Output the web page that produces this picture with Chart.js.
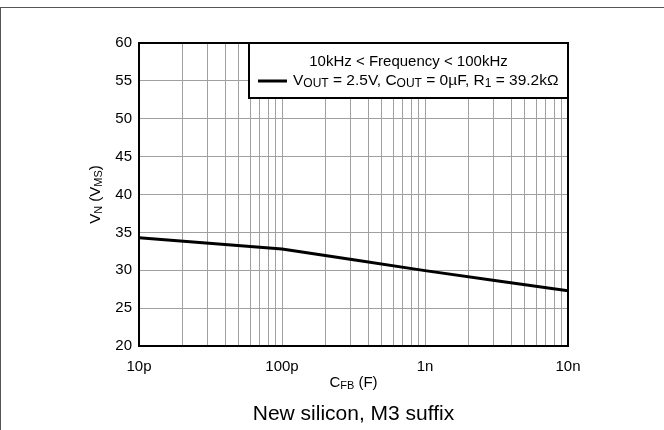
<!DOCTYPE html>
<html>
<head>
<meta charset="utf-8">
<script src="https://cdn.jsdelivr.net/npm/chart.js@4"></script>
<style>
  body { margin: 0; background: #fff; }
  canvas { display: block; }
</style>
</head>
<body>
<canvas id="chart" width="664" height="430"></canvas>
<script>
// data
const capValues = [1e-11, 1e-10, 3.16e-10, 1e-9, 3.16e-9, 1e-8];
const noiseValues = [34.3, 32.8, 31.4, 29.95, 28.6, 27.3];
const decadeLabels = ["10p", "100p", "1n", "10n"];
const decadeValues = [1e-11, 1e-10, 1e-9, 1e-8];
const yTicks = [20, 25, 30, 35, 40, 45, 50, 55, 60];

const FONT = "'Liberation Sans', Arial, sans-serif";

// minor + major grid positions for the log axis
const xTickValues = [];
decadeValues.forEach((d, i) => {
  if (i === decadeValues.length - 1) { xTickValues.push(d); return; }
  for (let m = 1; m < 10; m++) xTickValues.push(m * d);
});

// draw text made of pieces, some of them subscript
function richText(ctx, parts, x, y, size, align, subRatio) {
  const subSize = Math.round(size * (subRatio || 0.72));
  let total = 0;
  parts.forEach(p => {
    ctx.font = (p.sub ? subSize : size) + "px " + FONT;
    p.w = ctx.measureText(p.t).width;
    total += p.w;
  });
  let cx = align === "center" ? x - total / 2 : x;
  ctx.textBaseline = "middle";
  ctx.textAlign = "left";
  parts.forEach(p => {
    ctx.font = (p.sub ? subSize : size) + "px " + FONT;
    ctx.fillText(p.t, cx, p.sub ? y + 3 : y);
    cx += p.w;
  });
}

const decorations = {
  id: "decorations",
  beforeDraw(chart) {
    const ctx = chart.ctx;
    ctx.save();
    ctx.strokeStyle = "#555";
    ctx.lineWidth = 1;
    ctx.beginPath();
    ctx.moveTo(0, 7.5); ctx.lineTo(664, 7.5);
    ctx.moveTo(0.5, 7.5); ctx.lineTo(0.5, 430);
    ctx.stroke();
    ctx.restore();
  },
  afterDraw(chart) {
    const ctx = chart.ctx;
    const a = chart.chartArea;
    ctx.save();
    // legend box
    const lx = 249, ly = a.top, lw = a.right - 249, lh = 55;
    ctx.fillStyle = "#fff";
    ctx.fillRect(lx, ly, lw, lh);
    ctx.strokeStyle = "#000";
    ctx.lineWidth = 2;
    ctx.strokeRect(lx, ly, lw, lh);
    ctx.fillStyle = "#000";
    richText(ctx, [{ t: "10kHz < Frequency < 100kHz" }], lx + lw / 2, 62, 15, "center");
    ctx.lineWidth = 3;
    ctx.beginPath();
    ctx.moveTo(258, 81); ctx.lineTo(287, 81);
    ctx.stroke();
    richText(ctx, [
      { t: "V" }, { t: "OUT", sub: true }, { t: " = 2.5V, C" }, { t: "OUT", sub: true },
      { t: " = 0\u00b5F, R" }, { t: "1", sub: true }, { t: " = 39.2k\u03a9" }
    ], 293, 81, 15.5, "left", 0.75);

    // plot frame
    ctx.lineWidth = 2;
    ctx.strokeRect(a.left, a.top, a.right - a.left, a.bottom - a.top);

    // axis titles
    const midX = (a.left + a.right) / 2;
    richText(ctx, [{ t: "C" }, { t: "FB", sub: true }, { t: " (F)" }], midX, 383, 15, "center");
    ctx.save();
    ctx.translate(96, (a.top + a.bottom) / 2);
    ctx.rotate(-Math.PI / 2);
    richText(ctx, [{ t: "V" }, { t: "N", sub: true }, { t: " (V" }, { t: "MS", sub: true }, { t: ")" }], 0, 0, 15, "center");
    ctx.restore();

    // caption
    richText(ctx, [{ t: "New silicon, M3 suffix" }], midX, 414, 21, "center");
    ctx.restore();
  }
};

new Chart(document.getElementById("chart"), {
  type: "line",
  data: {
    datasets: [{
      data: capValues.map((c, i) => ({ x: c, y: noiseValues[i] })),
      borderColor: "#000",
      borderWidth: 3,
      pointRadius: 0,
      tension: 0,
      fill: false
    }]
  },
  options: {
    responsive: false,
    animation: false,
    devicePixelRatio: 1,
    layout: { padding: { left: 0, top: 43, right: 96, bottom: 0 } },
    plugins: { legend: { display: false }, tooltip: { enabled: false } },
    scales: {
      x: {
        type: "logarithmic",
        min: 1e-11,
        max: 1e-8,
        afterBuildTicks(scale) { scale.ticks = xTickValues.map(v => ({ value: v })); },
        afterFit(scale) { scale.height = 84; },
        grid: { color: "#a0a0a0", lineWidth: 1, drawTicks: false },
        border: { display: false },
        ticks: {
          autoSkip: false,
          maxRotation: 0,
          padding: 12,
          color: "#000",
          font: { family: FONT, size: 15 },
          callback(v) {
            const i = decadeValues.findIndex(d => Math.abs(Math.log10(v) - Math.log10(d)) < 1e-6);
            return i >= 0 ? decadeLabels[i] : "";
          }
        }
      },
      y: {
        min: 20,
        max: 60,
        afterBuildTicks(scale) { scale.ticks = yTicks.map(v => ({ value: v })); },
        afterFit(scale) { scale.width = 139; },
        grid: { color: "#a0a0a0", lineWidth: 1, drawTicks: false },
        border: { display: false },
        ticks: {
          padding: 7,
          color: "#000",
          font: { family: FONT, size: 15 }
        }
      }
    }
  },
  plugins: [decorations]
});
</script>
</body>
</html>
